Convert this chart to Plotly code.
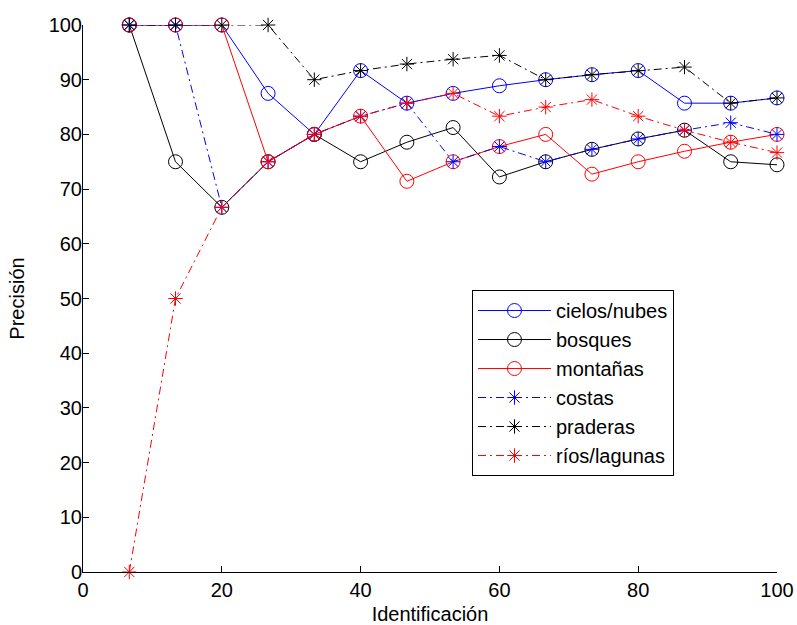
import plotly.graph_objects as go

# Identification percentage (x) and precision per category
identificacion = [6.67, 13.33, 20.0, 26.67, 33.33, 40.0, 46.67, 53.33,
                  60.0, 66.67, 73.33, 80.0, 86.67, 93.33, 100.0]

cielos_nubes = [100, 100, 100, 87.5, 80, 91.67, 85.71, 87.5,
                88.89, 90, 90.91, 91.67, 85.71, 85.71, 86.67]
bosques = [100, 75, 66.67, 75, 80, 75, 78.57, 81.25,
           72.22, 75, 77.27, 79.17, 80.77, 75, 74.44]
montanas = [100, 100, 100, 75, 80, 83.33, 71.43, 75,
            77.78, 80, 72.73, 75, 76.92, 78.57, 80]
costas = [100, 100, 66.67, 75, 80, 83.33, 85.71, 75,
          77.78, 75, 77.27, 79.17, 80.77, 82.14, 80]
praderas = [100, 100, 100, 100, 90, 91.67, 92.86, 93.75,
            94.44, 90, 90.91, 91.67, 92.31, 85.71, 86.67]
rios_lagunas = [0, 50, 66.67, 75, 80, 83.33, 85.71, 87.5,
                83.33, 85, 86.36, 83.33, 80.77, 78.57, 76.67]

series = [
    ("cielos/nubes", cielos_nubes, "#0000ff", "solid", "circle-open", 14),
    ("bosques", bosques, "#000000", "solid", "circle-open", 14),
    ("montañas", montanas, "#ff0000", "solid", "circle-open", 14),
    ("costas", costas, "#0000ff", "8px,4px,2px,4px", "asterisk-open", 12),
    ("praderas", praderas, "#000000", "8px,4px,2px,4px", "asterisk-open", 12),
    ("ríos/lagunas", rios_lagunas, "#ff0000", "8px,4px,2px,4px", "asterisk-open", 12),
]

FONT = "Liberation Sans, Arial, sans-serif"
FS = 20

fig = go.Figure()
for i, (name, vals, color, dash, symbol, size) in enumerate(series):
    fig.add_trace(go.Scatter(
        x=identificacion, y=vals, name=name, mode="lines+markers",
        line=dict(color=color, width=1, dash=dash),
        marker=dict(symbol=symbol, size=size, color=color,
                    line=dict(color=color, width=1)),
        cliponaxis=False,
    ))

fig.update_layout(
    width=797, height=625,
    margin=dict(l=83, r=20, t=25, b=53),
    paper_bgcolor="white", plot_bgcolor="white",
    font=dict(family=FONT, size=FS, color="black"),
    showlegend=True,
    legend=dict(
        x=0.5605, y=0.5155, xanchor="left", yanchor="top",
        bgcolor="white", bordercolor="black", borderwidth=1,
        font=dict(family=FONT, size=FS, color="black"),
        tracegroupgap=0, itemwidth=73,
    ),
    xaxis=dict(
        range=[0, 100], tickmode="array", tickvals=[0, 20, 40, 60, 80, 100],
        ticks="inside", ticklen=6, tickcolor="black",
        showline=True, linecolor="black", linewidth=1,
        showgrid=False, zeroline=False, mirror=False, automargin=False,
        title=dict(text="Identificación", standoff=6,
                   font=dict(family=FONT, size=FS)),
        tickfont=dict(family=FONT, size=FS),
    ),
    yaxis=dict(
        range=[0, 100], tickmode="array", tickvals=list(range(0, 101, 10)),
        ticks="inside", ticklen=6, tickcolor="black",
        showline=True, linecolor="black", linewidth=1,
        showgrid=False, zeroline=False, mirror=False, automargin=False,
        ticklabelstandoff=-4,
        title=dict(text="Precisión", standoff=18,
                   font=dict(family=FONT, size=FS)),
        tickfont=dict(family=FONT, size=FS),
    ),
)

fig.write_html("out.html")
